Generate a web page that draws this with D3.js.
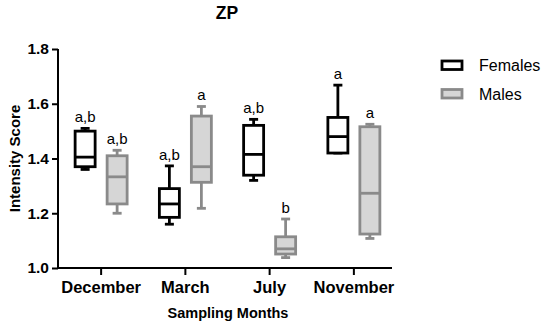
<html>
<head>
    <style>
        body { margin: 0; background: #fff; }
        text { font-family: Arial, "Liberation Sans", Helvetica, sans-serif; }
    </style>
</head>
<body>
    <svg id="chart"></svg>
</body>
<script src="https://cdn.jsdelivr.net/npm/d3@7"></script>
<script>
    // Data
    let months = ["December", "March", "July", "November"]
    let groups = ["Females", "Males"]
    // [min, q1, median, q3, max]
    let females = [
        [1.36, 1.37, 1.405, 1.50, 1.51],
        [1.16, 1.185, 1.234, 1.29, 1.373],
        [1.32, 1.339, 1.415, 1.521, 1.543],
        [1.42, 1.42, 1.48, 1.55, 1.668]
    ]
    let males = [
        [1.20, 1.234, 1.333, 1.41, 1.43],
        [1.218, 1.313, 1.37, 1.555, 1.59],
        [1.038, 1.051, 1.07, 1.114, 1.179],
        [1.108, 1.124, 1.273, 1.516, 1.525]
    ]
    let femaleLetters = ["a,b", "a,b", "a,b", "a"]
    let maleLetters = ["a,b", "a", "b", "a"]
    let yTicks = [1.0, 1.2, 1.4, 1.6, 1.8]

    let width = 550, height = 330
    let styles = {
        Females: { stroke: "#000", fill: "#fff" },
        Males: { stroke: "#8a8a8a", fill: "#d6d6d6" }
    }

    let svg = d3.select("#chart").attr("width", width).attr("height", height)

    let x = d3.scaleBand().domain(months).range([59, 396])
    let y = d3.scaleLinear().domain([1.0, 1.8]).range([268, 49])
    let offset = d3.scalePoint().domain(groups).range([-16, 16])

    // title
    svg.append("text").attr("x", 227).attr("y", 19)
        .attr("text-anchor", "middle").attr("font-weight", "bold").attr("font-size", 17.5)
        .text("ZP")

    // y axis
    let yAxis = svg.append("g").attr("transform", "translate(58,0)")
        .call(d3.axisLeft(y).tickValues(yTicks).tickFormat(d3.format(".1f")).tickSize(6).tickPadding(3))
    yAxis.select(".domain").attr("stroke-width", 2).attr("d", `M0,${y(1.8)}V${y(1.0) + 1}`)
    yAxis.selectAll(".tick line").attr("stroke-width", 2)
    yAxis.selectAll(".tick text").attr("font-size", 15.5).attr("font-weight", "bold").attr("fill", "#000")
        .attr("font-family", "Arial, 'Liberation Sans', sans-serif")

    // x axis
    let xAxis = svg.append("g").attr("transform", `translate(0,${y(1.0)})`)
        .call(d3.axisBottom(x).tickSize(7).tickPadding(6))
    xAxis.select(".domain").attr("stroke-width", 2).attr("d", "M57,0H392")
    xAxis.selectAll(".tick line").attr("stroke-width", 2)
    xAxis.selectAll(".tick text").attr("font-size", 16.5).attr("font-weight", "bold").attr("fill", "#000")
        .attr("font-family", "Arial, 'Liberation Sans', sans-serif")

    // axis titles
    svg.append("text").attr("transform", `translate(20,${(y(1.0) + y(1.8)) / 2}) rotate(-90)`)
        .attr("text-anchor", "middle").attr("font-weight", "bold").attr("font-size", 15)
        .text("Intensity Score")
    svg.append("text").attr("x", 228).attr("y", 318)
        .attr("text-anchor", "middle").attr("font-weight", "bold").attr("font-size", 14.5)
        .text("Sampling Months")

    // boxes
    let boxW = 20, capW = 9
    function drawBoxes(group, values, letters) {
        let s = styles[group]
        let g = svg.append("g").selectAll("g")
            .data(values.map((v, i) => ({ month: months[i], v: v, letter: letters[i] })))
            .enter().append("g")
            .attr("transform", d => `translate(${x(d.month) + x.bandwidth() / 2 + offset(group)},0)`)

        g.append("line").attr("y1", d => y(d.v[0])).attr("y2", d => y(d.v[4]))
            .attr("stroke", s.stroke).attr("stroke-width", 2.8)
        g.append("line").attr("x1", -capW / 2).attr("x2", capW / 2)
            .attr("y1", d => y(d.v[4])).attr("y2", d => y(d.v[4]))
            .attr("stroke", s.stroke).attr("stroke-width", 2.8)
        g.append("line").attr("x1", -capW / 2).attr("x2", capW / 2)
            .attr("y1", d => y(d.v[0])).attr("y2", d => y(d.v[0]))
            .attr("stroke", s.stroke).attr("stroke-width", 2.8)
        g.append("rect").attr("x", -boxW / 2).attr("width", boxW)
            .attr("y", d => y(d.v[3])).attr("height", d => y(d.v[1]) - y(d.v[3]))
            .attr("fill", s.fill).attr("stroke", s.stroke).attr("stroke-width", 2.8)
        g.append("line").attr("x1", -boxW / 2).attr("x2", boxW / 2)
            .attr("y1", d => y(d.v[2])).attr("y2", d => y(d.v[2]))
            .attr("stroke", s.stroke).attr("stroke-width", 2.8)
        g.append("text").attr("y", d => y(d.v[4]) - 6)
            .attr("text-anchor", "middle").attr("font-size", 15)
            .text(d => d.letter)
    }
    drawBoxes("Females", females, femaleLetters)
    drawBoxes("Males", males, maleLetters)

    // legend
    let legend = svg.append("g").selectAll("g").data(groups).enter().append("g")
        .attr("transform", (d, i) => `translate(442,${61 + i * 28.5})`)
    legend.append("rect").attr("width", 20).attr("height", 8.5)
        .attr("fill", d => styles[d].fill).attr("stroke", d => styles[d].stroke).attr("stroke-width", 2.8)
    legend.append("text").attr("x", 37).attr("y", 4.5).attr("dy", "0.35em")
        .attr("font-size", 16).text(d => d)
</script>
</html>
